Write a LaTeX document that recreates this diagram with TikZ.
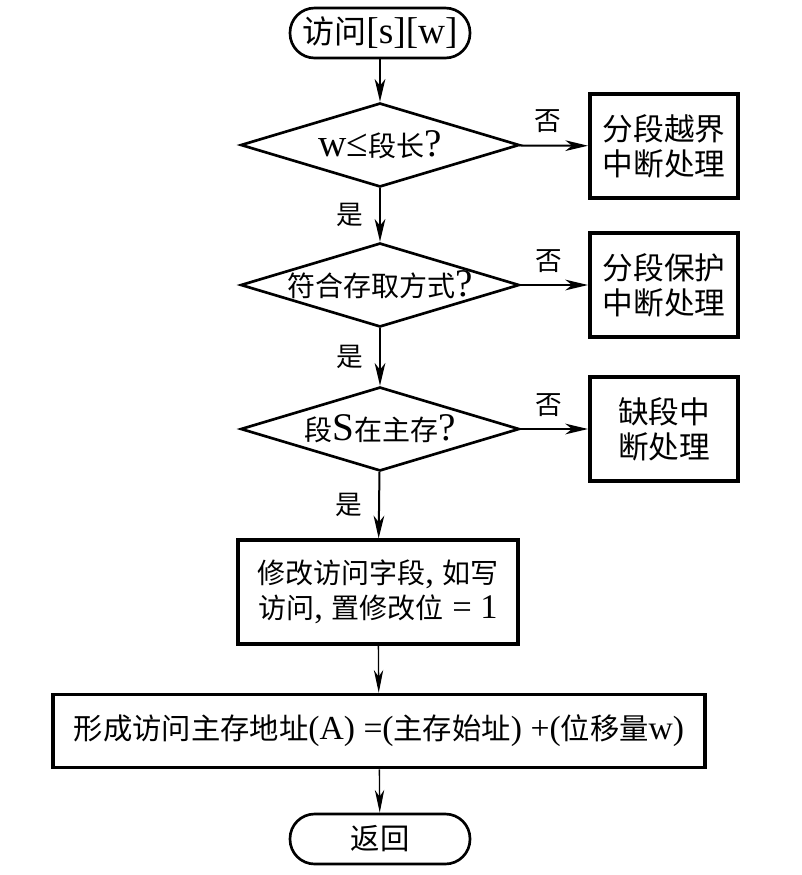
\documentclass[tikz,border=0pt]{standalone}
\usepackage{fontspec}
\setmainfont{Liberation Serif}[Scale=1.4]
\newfontfamily\cjk{Noto Sans CJK SC}
\usetikzlibrary{shapes.geometric,arrows.meta}
\newcommand\zh[1]{{\cjk #1}}
\newcommand\zhs[2]{{\fontsize{#1}{#1}\cjk #2}}
\begin{document}
\begin{tikzpicture}[x=0.75pt,y=-0.75pt,
  term/.style={draw, line width=2pt, rounded corners=18.5pt, minimum width=135pt, minimum height=37.5pt, inner sep=0pt, font=\fontsize{20}{24}\selectfont},
  dia/.style={draw, shape=diamond, line width=2pt, minimum width=209pt, minimum height=63pt, inner sep=0pt},
  diatext/.style={font=\fontsize{21}{24}\selectfont, inner sep=0pt},
  proc/.style={draw, line width=3pt, minimum width=111pt, minimum height=78pt, align=center, inner sep=0pt, font=\fontsize{23}{26}\selectfont},
  lbl/.style={font=\fontsize{20}{22}\selectfont},
  arr/.style={-{Stealth[length=17pt,width=8pt,inset=5pt]}, line width=1.5pt},
  arrthin/.style={-{Stealth[length=17pt,width=7pt,inset=5pt]}, line width=1pt}
]
\useasboundingbox (0,0) rectangle (802,875);

\node[term] (t1) at (380,33) {\zhs{24}{访问}[s][w]};

\node[dia] (d1) at (380,145) {};
\node[diatext] (d1t) at (d1) {w≤\zh{段长}?};
\node[dia] (d2) at (380,285) {};
\node[diatext] (d2t) at (d2) {\zh{符合存取方式}?};
\node[dia] (d3) at (380,429) {};
\node[diatext] (d3t) at (d3) {\zh{段}S\zh{在主存}?};

\node[proc] (b1) at (664,146) {\zh{分段越界}\\\zh{中断处理}};
\node[proc] (b2) at (664,285) {\zh{分段保护}\\\zh{中断处理}};
\node[proc] (b3) at (664,429) {\zh{缺段中}\\\zh{断处理}};

\node[proc, line width=2.5pt, minimum width=210pt, minimum height=78pt, font=\fontsize{18.5}{26}\selectfont] (b4) at (378,592)
  {\zhs{21}{修改访问字段}, \zhs{21}{如写}\\\zhs{21}{访问}, \zhs{21}{置修改位} = 1};
\node[proc, line width=2.5pt, minimum width=489pt, minimum height=55pt, font=\fontsize{18}{24}\selectfont] (b5) at (379,731)
  {\zhs{22}{形成访问主存地址}(A) =(\zhs{22}{主存始址}) +(\zhs{22}{位移量}w)};

\node[term] (t2) at (380,839) {\zhs{22}{返回}};

\draw[arr] (t1) -- (d1);
\draw[arr] (d1) -- node[lbl, left=7pt] {\zh{是}} (d2);
\draw[arr] (d2) -- node[lbl, left=7pt] {\zh{是}} (d3);
\draw[arr] (d3) -- node[lbl, left=7pt] {\zh{是}} (b4);
\draw[arr] (d1) -- node[lbl, above=4pt, pos=0.42] {\zh{否}} (b1);
\draw[arr] (d2) -- node[lbl, above=4pt, pos=0.42] {\zh{否}} (b2);
\draw[arr] (d3) -- node[lbl, above=4pt, pos=0.42] {\zh{否}} (b3);
\draw[arrthin] (b4) -- (b5);
\draw[arrthin] (b5) -- (t2);
\end{tikzpicture}
\end{document}
